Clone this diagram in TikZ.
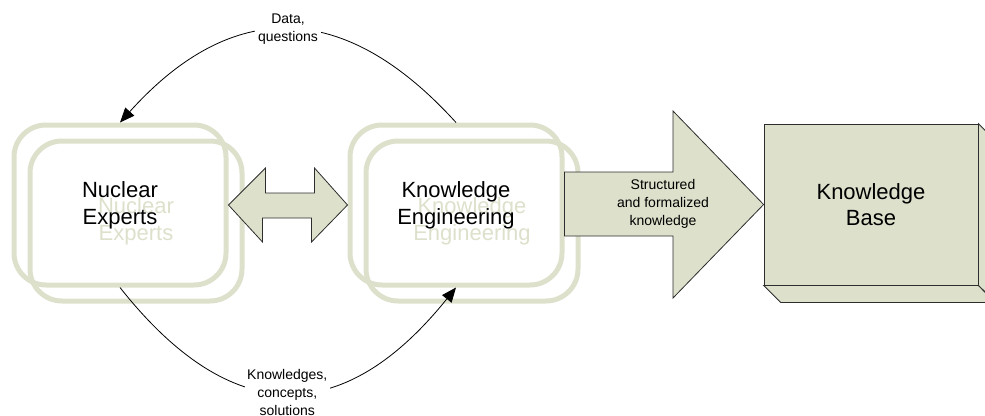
\documentclass[tikz,border=0pt]{standalone}
\usepackage{fontspec}
\setmainfont{Liberation Sans}
\usetikzlibrary{arrows.meta,calc,positioning}
\definecolor{kbolive}{RGB}{221,224,203}
\definecolor{kbedge}{RGB}{45,45,45}

\begin{document}
\begin{tikzpicture}[x=0.75pt,y=-0.75pt,every node/.style={align=center},
    roundbox/.style={draw=kbolive,line width=3.75pt,rounded corners=24pt,minimum width=159pt,minimum height=120pt,inner sep=0pt},
    bigtext/.style={font=\fontsize{16.5}{20}\selectfont},
    smalltext/.style={font=\fontsize{10.5}{13.5}\selectfont},
    blockfill/.style={draw=kbedge,fill=kbolive,line width=0.6pt,line join=miter},
    flow/.style={draw=black,line width=0.6pt,-{Triangle[length=11pt,width=9pt]}}]
    \useasboundingbox (0,0) rectangle (985,415);
    \node[roundbox,bigtext,text=kbolive] (nefront) at (136,221) {Nuclear\\Experts};
    \node[roundbox,bigtext] (neback) at ($(nefront.center)+(-16,-16)$) {Nuclear\\Experts};
    \node[roundbox,bigtext,text=kbolive] (kefront) at (472,221) {Knowledge\\Engineering};
    \node[roundbox,bigtext] (keback) at ($(kefront.center)+(-16,-16)$) {Knowledge\\Engineering};
    \draw[blockfill] (neback.east) -- ++(37,-37) -- ++(0,25) -- ++(49,0) -- ++(0,-25) -- (keback.west)
      -- ++(-36,37) -- ++(0,-24) -- ++(-49,0) -- ++(0,24) -- cycle;
    \node[blockfill,bigtext,minimum width=160.5pt,minimum height=120.75pt] (kb) at (871,204.5) {Knowledge\\Base};
    \draw[blockfill] (kb.south west) -- ++(17,17) -- ++(214,0) -- (kb.south east) -- cycle;
    \draw[blockfill] (kb.north east) -- ++(17,17) -- ++(0,161) -- (kb.south east) -- cycle;
    \draw[blockfill] (keback.east |- 0,172) -- (673,172) -- (673,111) -- (kb.west) -- (673,298) -- (673,236)
      -- (keback.east |- 0,236) -- cycle;
    \node[smalltext] (structlbl) at (663,204) {Structured\\and formalized\\knowledge};
    \draw[flow] (keback.north) .. controls (344,-1) and (232,-2) .. (neback.north)
      node[pos=.5,fill=white,smalltext,inner sep=2pt] (datalbl) {Data,\\questions};
    \draw[flow] (neback.south) .. controls (231,428) and (343,428) .. (keback.south)
      node[pos=.5,fill=white,smalltext,inner sep=2pt] (knowlbl) {Knowledges,\\concepts,\\solutions};
\end{tikzpicture}
\end{document}
